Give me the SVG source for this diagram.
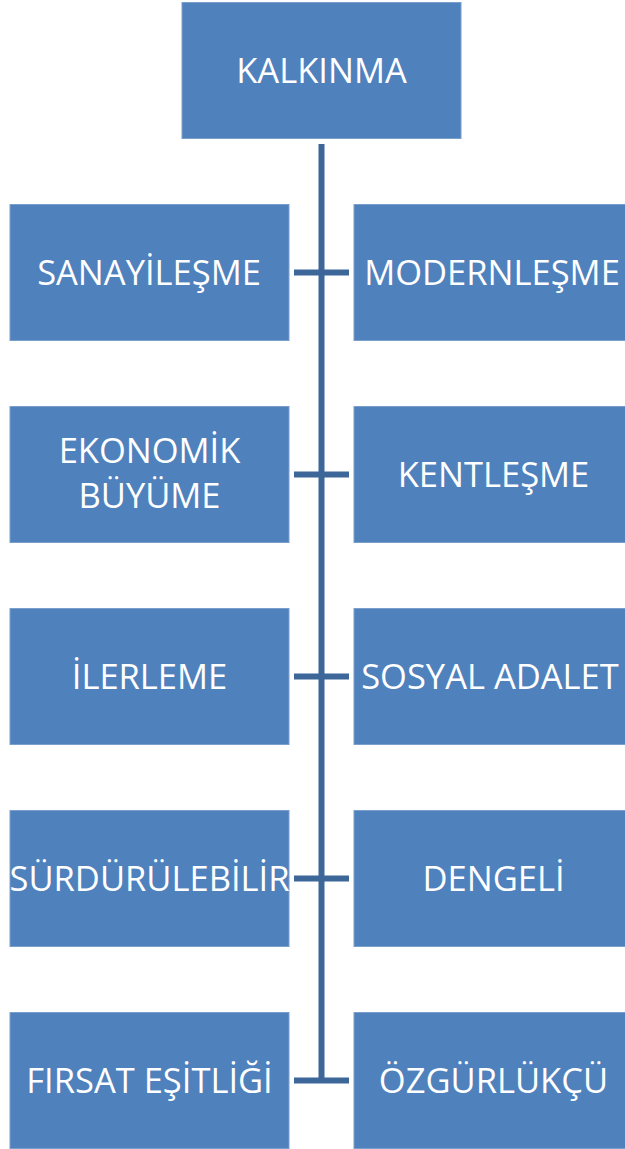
<svg xmlns="http://www.w3.org/2000/svg" width="625" height="1149" viewBox="0 0 625 1149">
<style>
.box{fill:#4F81BD;stroke:#7A9FCC;stroke-width:1}
.t{font-family:"Open Sans","Liberation Sans",sans-serif;font-size:34.5px;fill:#FFFFFF;text-anchor:middle}
.c{stroke:#3D6699;stroke-width:6;fill:none}
</style>
<g id="connectors">
<line class="c" x1="321.5" y1="144" x2="321.5" y2="1083"/>
<line class="c" x1="294" y1="272.5" x2="349" y2="272.5"/>
<line class="c" x1="294" y1="474.5" x2="349" y2="474.5"/>
<line class="c" x1="294" y1="676.5" x2="349" y2="676.5"/>
<line class="c" x1="294" y1="878.5" x2="349" y2="878.5"/>
<line class="c" x1="294" y1="1080.5" x2="349" y2="1080.5"/>
</g>
<g id="kalkinma"><rect class="box" x="182" y="2.5" width="279" height="136"/><text class="t" x="321.5" y="82.5">KALKINMA</text></g>
<g id="sanayilesme"><rect class="box" x="10" y="204.5" width="279" height="136"/><text class="t" x="149" y="284.5">SANAYİLEŞME</text></g>
<g id="modernlesme"><rect class="box" x="354" y="204.5" width="279" height="136"/><text class="t" x="492" y="284.5">MODERNLEŞME</text></g>
<g id="ekonomik"><rect class="box" x="10" y="406.5" width="279" height="136"/><text class="t" x="149.5" y="463">EKONOMİK</text><text class="t" x="149.5" y="508">BÜYÜME</text></g>
<g id="kentlesme"><rect class="box" x="354" y="406.5" width="279" height="136"/><text class="t" x="493.5" y="486.5">KENTLEŞME</text></g>
<g id="ilerleme"><rect class="box" x="10" y="608.5" width="279" height="136"/><text class="t" x="149.5" y="688.5">İLERLEME</text></g>
<g id="sosyal"><rect class="box" x="354" y="608.5" width="279" height="136"/><text class="t" x="490" y="688.5">SOSYAL ADALET</text></g>
<g id="surdurulebilir"><rect class="box" x="10" y="810.5" width="279" height="136"/><text class="t" x="149.5" y="890.5">SÜRDÜRÜLEBİLİR</text></g>
<g id="dengeli"><rect class="box" x="354" y="810.5" width="279" height="136"/><text class="t" x="493.5" y="890.5">DENGELİ</text></g>
<g id="firsat"><rect class="box" x="10" y="1012.5" width="279" height="136"/><text class="t" x="149.5" y="1092.5">FIRSAT EŞİTLİĞİ</text></g>
<g id="ozgurlukcu"><rect class="box" x="354" y="1012.5" width="279" height="136"/><text class="t" x="493.5" y="1092.5">ÖZGÜRLÜKÇÜ</text></g>
</svg>
